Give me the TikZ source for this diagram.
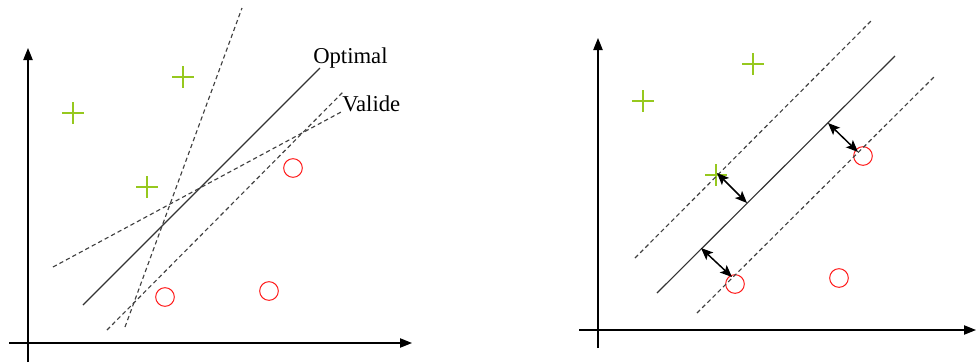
\documentclass[tikz,border=0pt]{standalone}
\usepackage{fontspec}
\setmainfont{Liberation Serif}
\usetikzlibrary{arrows.meta, shapes.misc}
\definecolor{vertjaune}{RGB}{150,200,30}

\begin{document}
\begin{tikzpicture}[
    x=0.75pt, y=-0.75pt,
    axis/.style={-{Triangle[length=9pt, width=7pt]}, line width=0.9pt},
    sep/.style={line width=0.85pt, black!80},
    sepdash/.style={line width=0.85pt, black!75, dash pattern=on 3.2pt off 2.3pt},
    marge/.style={{Stealth[length=9pt, width=7.5pt, inset=2pt]}-{Stealth[length=9pt, width=7.5pt, inset=2pt]}, line width=1.1pt},
    plus/.style={cross out, rotate=45, draw=vertjaune, line width=1pt,
                 minimum size=10.6pt, inner sep=0pt},
    rond/.style={circle, draw=red!90, line width=0.75pt, minimum size=14pt, inner sep=0pt},
    etiq/.style={anchor=base west, inner sep=0pt, font=\fontsize{17}{20}\selectfont},
]
\useasboundingbox (0,0) rectangle (976,362);

% ── Left: several valid separators ──
\coordinate (gO) at (28,362);
\coordinate (gY) at (28,48);
\coordinate (gX0) at (9,343);
\coordinate (gX) at (412,343);
\draw[axis] (gO) -- (gY);
\draw[axis] (gX0) -- (gX);

\node[plus] (gp1) at (73,113) {};
\node[plus] (gp2) at (183,77) {};
\node[plus] (gp3) at (147,187) {};
\node[rond] (gc1) at (293,168) {};
\node[rond] (gc2) at (165,297) {};
\node[rond] (gc3) at (269,291) {};

\coordinate (optA) at (83,305);
\coordinate (optB) at (320,68);
\coordinate (v1A) at (125,327);
\coordinate (v1B) at (242,8);
\coordinate (v2A) at (53,267);
\coordinate (v2B) at (343,111);
\coordinate (v3A) at (107,330);
\coordinate (v3B) at (343,92);
\draw[sep] (optA) -- (optB);
\draw[sepdash] (v1A) -- (v1B);
\draw[sepdash] (v2A) -- (v2B);
\draw[sepdash] (v3A) -- (v3B);

\node[etiq] (lopt) at (313,63) {Optimal};
\node[etiq] (lval) at (342,111) {Valide};

% ── Right: optimal separator and its margin ──
\coordinate (dO) at (598,348);
\coordinate (dY) at (598,38);
\coordinate (dX0) at (579,330);
\coordinate (dX) at (976,330);
\draw[axis] (dO) -- (dY);
\draw[axis] (dX0) -- (dX);

\node[plus] (dp1) at (643,101) {};
\node[plus] (dp2) at (753,64) {};
\node[plus] (dp3) at (716,175) {};
\node[rond] (dc1) at (863,156) {};
\node[rond] (dc2) at (735,284) {};
\node[rond] (dc3) at (839,278) {};

\coordinate (hA) at (657,293);
\coordinate (hB) at (895,56);
\coordinate (hupA) at (635,258);
\coordinate (hupB) at (873,19);
\coordinate (hdnA) at (697,313);
\coordinate (hdnB) at (936,75);
\draw[sep] (hA) -- (hB);
\draw[sepdash] (hupA) -- (hupB);
\draw[sepdash] (hdnA) -- (hdnB);

\coordinate (m1A) at (717,173);
\coordinate (m1B) at (747,203);
\coordinate (m2A) at (701,248);
\coordinate (m2B) at (732,277);
\coordinate (m3A) at (828,123);
\coordinate (m3B) at (858,152);
\draw[marge] (m1A) -- (m1B);
\draw[marge] (m2A) -- (m2B);
\draw[marge] (m3A) -- (m3B);

\end{tikzpicture}
\end{document}
